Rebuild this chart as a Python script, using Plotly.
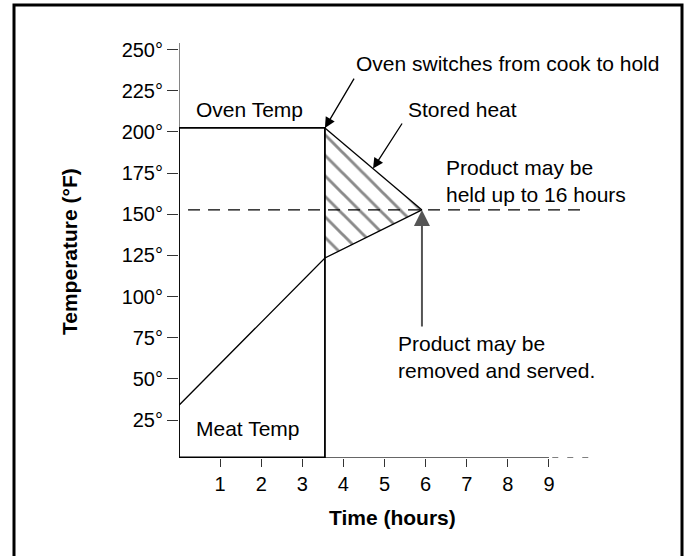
import plotly.graph_objects as go

# ---- data ----
switch_time = 3.55          # hours when oven switches cook -> hold
oven_temp = 202.4           # oven set temperature (°F)
base_temp = 2.0             # baseline of chart box
meat_time = [0, 3.55, 5.91]
meat_temp = [34, 123.4, 152.6]
stored_time = [3.55, 5.91]
stored_temp = [202.4, 152.6]
hold_temp = 152.6
hold_range = [0.22, 9.85]
axis_top = 254
x_ticks = [1, 2, 3, 4, 5, 6, 7, 8, 9]
y_ticks = [25, 50, 75, 100, 125, 150, 175, 200, 225, 250]
y_ticklabels = [f"{v}°" for v in y_ticks]
x_axis_end = 9
x_axis_dash = [9.08, 10.0]

W, H = 688, 556
FONT = "Liberation Sans, Arial, sans-serif"
FS = 20
AFS = 21

fig = go.Figure()

# hatched stored-heat triangle
fig.add_trace(go.Scatter(
    x=[stored_time[0], stored_time[1], meat_time[1], stored_time[0]],
    y=[stored_temp[0], stored_temp[1], meat_temp[1], stored_temp[0]],
    mode="lines", fill="toself", line=dict(width=0, color="rgba(0,0,0,0)"),
    fillcolor="white",
    fillpattern=dict(shape="\\", size=14.5, solidity=0.2, fgcolor="#8a8a8a",
                     bgcolor="white", fillmode="replace"),
    hoverinfo="skip", showlegend=False))

# y axis line (thin)
fig.add_trace(go.Scatter(x=[0, 0], y=[base_temp, axis_top], mode="lines",
                         line=dict(color="#333", width=1.2), hoverinfo="skip", showlegend=False))
# x axis line (thin) and dashed continuation
fig.add_trace(go.Scatter(x=[0, x_axis_end], y=[base_temp, base_temp], mode="lines",
                         line=dict(color="#333", width=1.4), hoverinfo="skip", showlegend=False))
fig.add_trace(go.Scatter(x=x_axis_dash, y=[base_temp, base_temp], mode="lines",
                         line=dict(color="#555", width=1.2, dash="6px,9px"),
                         hoverinfo="skip", showlegend=False))

# hold temperature dashed line
fig.add_trace(go.Scatter(x=hold_range, y=[hold_temp, hold_temp], mode="lines",
                         line=dict(color="black", width=1.2, dash="12px,8px"),
                         hoverinfo="skip", showlegend=False))

# oven/cook box
fig.add_trace(go.Scatter(
    x=[0, 0, switch_time, switch_time],
    y=[base_temp, oven_temp, oven_temp, base_temp],
    mode="lines", line=dict(color="black", width=1.8), hoverinfo="skip", showlegend=False))
fig.add_trace(go.Scatter(x=[0, switch_time], y=[base_temp, base_temp], mode="lines",
                         line=dict(color="black", width=2.6), hoverinfo="skip", showlegend=False))

# meat temperature
fig.add_trace(go.Scatter(x=meat_time, y=meat_temp, mode="lines",
                         line=dict(color="black", width=1.3), hoverinfo="skip", showlegend=False))
# stored heat line
fig.add_trace(go.Scatter(x=stored_time, y=stored_temp, mode="lines",
                         line=dict(color="black", width=1.3), hoverinfo="skip", showlegend=False))

x0px, x1px = 179, 672.3
y0px, y1px = 457.9, 29.8
x_range = [0, 12]
y_range = [2, 262]

fig.update_layout(
    width=W, height=H, margin=dict(l=0, r=0, t=0, b=0),
    paper_bgcolor="white", plot_bgcolor="white",
    font=dict(family=FONT, size=FS, color="black"),
    hovermode=False,
    xaxis=dict(domain=[x0px / W, x1px / W], range=x_range, showgrid=False, zeroline=False,
               showline=False, tickmode="array", tickvals=x_ticks,
               ticktext=[str(t) for t in x_ticks], ticks="outside", ticklen=8,
               tickwidth=1.4, tickcolor="#333", tickfont=dict(size=FS)),
    yaxis=dict(domain=[1 - y0px / H, 1 - y1px / H], range=y_range, showgrid=False,
               zeroline=False, showline=False, tickmode="array", tickvals=y_ticks,
               ticktext=y_ticklabels, ticks="outside", ticklen=11, tickwidth=1.4,
               tickcolor="#333", tickfont=dict(size=FS)),
)

# outer border
fig.add_shape(type="rect", xref="paper", yref="paper", x0=14 / W, x1=682 / W,
              y0=-0.02, y1=1 - 5 / H, line=dict(color="black", width=3))

ann = []
def txt(x, y, s, xref="x", yref="y", **kw):
    ann.append(dict(x=x, y=y, xref=xref, yref=yref, text=s, showarrow=False,
                    xanchor=kw.pop("xanchor", "left"), yanchor=kw.pop("yanchor", "middle"),
                    align=kw.pop("align", "left"), font=kw.pop("font", dict(size=AFS)), **kw))

def arrow(x, y, ax, ay, color="black", width=1.3):
    ann.append(dict(x=x, y=y, xref="x", yref="y", ax=ax, ay=ay, axref="x", ayref="y",
                    text="", showarrow=True, arrowhead=2, arrowsize=1.6, arrowwidth=width,
                    arrowcolor=color, standoff=0))

txt(4.26, 241.8, "Oven switches from cook to hold")
txt(5.53, 213.3, "Stored heat")
txt(6.45, 170.2, "Product may be<br>held up to 16 hours")
txt(5.28, 63.0, "Product may be<br>removed and served.")
txt(0.37, 213.3, "Oven Temp")
txt(0.37, 19.6, "Meat Temp")
txt(392 / W, 1 - 517 / H, "<b>Time (hours)</b>", xref="paper", yref="paper",
    xanchor="center", align="center")
txt(69 / W, 1 - 252 / H, "<b>Temperature (°F)</b>", xref="paper", yref="paper",
    xanchor="center", align="center", textangle=-90)

arrow(switch_time, oven_temp, 4.28, 233.3)
arrow(4.72, 177.7, 5.45, 206.0)
arrow(meat_time[2], hold_temp, meat_time[2], 80.9, color="#555", width=2)

fig.update_layout(annotations=ann)
fig.write_html("out.html", config={"displayModeBar": False},
               post_script="document.body.style.margin='0';")
